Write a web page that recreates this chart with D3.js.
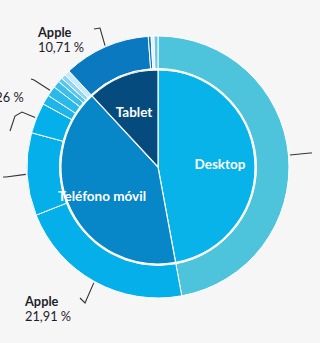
<!DOCTYPE html>
<html><head><meta charset="utf-8">
<script src="https://cdn.jsdelivr.net/npm/d3@7"></script>
<style>
html,body{margin:0;padding:0;background:#f6f6f6;}
svg{display:block;}
</style></head>
<body>
<svg id="c" width="320" height="343"></svg>
<script>
// Inner ring: device types (%)
const innerCats = ["Desktop", "Teléfono móvil", "Tablet"];
const innerVals = [47.1, 41.0, 11.9];
const innerColors = ["#07b3e8", "#0786c8", "#064b7e"];

// Outer ring: vendors within each device (%)
const outerParents = ["Desktop", "Teléfono móvil", "Teléfono móvil", "Teléfono móvil", "Teléfono móvil", "Teléfono móvil", "Teléfono móvil", "Teléfono móvil", "Teléfono móvil", "Teléfono móvil", "Tablet", "Tablet", "Tablet", "Tablet"];
const outerNames = ["Windows", "Apple", "Samsung", "Huawei", "Xiaomi", "LG", "Motorola", "Sony", "Nokia", "Otros", "Apple", "Samsung", "Amazon", "Otros"];
const outerVals = [47.1, 21.91, 10.2, 3.78, 1.2, 1.26, 0.86, 0.55, 0.55, 0.69, 10.71, 0.35, 0.35, 0.49];
const outerColors = ["#4ec3dc", "#05b0ea", "#05b0ea", "#05b0ea", "#1eb6ea", "#2ab9eb", "#3bbeec", "#55c6ee", "#8cd6f1", "#c9ebf7", "#0a79bf", "#0a79bf", "#e3f2f9", "#6cc7ea"];

// Labels shown (index into outer data)
const labelIdx = [10, 1, 5];
const labelName = ["Apple", "Apple", "LG"];
const labelPct = ["10,71 %", "21,91 %", "1,26 %"];
// leader lines only (their labels lie outside the visible area)
const leaderOnlyIdx = [3, 2, 0];

const svg = d3.select("#c");
const cx = 158, cy = 167;
const rPie = 97, rIn = 98.5, rOut = 131;
const g = svg.append("g").attr("transform", `translate(${cx},${cy})`);

const pie = d3.pie().sort(null).value(d => d.v);
const innerData = pie(innerCats.map((c, i) => ({c, v: innerVals[i], col: innerColors[i]})));
const outerData = pie(outerNames.map((n, i) => ({n, v: outerVals[i], col: outerColors[i]})));

const arcInner = d3.arc().innerRadius(0).outerRadius(rPie);
const arcOuter = d3.arc().innerRadius(rIn).outerRadius(rOut);

g.selectAll("path.o").data(outerData).join("path")
  .attr("class", "o").attr("d", arcOuter)
  .attr("fill", d => d.data.col).attr("stroke", "#ffffff").attr("stroke-width", 1);
g.selectAll("path.i").data(innerData).join("path")
  .attr("class", "i").attr("d", arcInner)
  .attr("fill", d => d.data.col).attr("stroke", "#ffffff").attr("stroke-width", 1.2);

// inner labels
const innerLabelPos = [[62, 2], [-56, 34], [-24, -50]];
g.selectAll("text.il").data(innerData).join("text")
  .attr("class", "il")
  .attr("x", (d, i) => innerLabelPos[i][0]).attr("y", (d, i) => innerLabelPos[i][1])
  .attr("text-anchor", "middle")
  .attr("font-family", "Lato, 'Open Sans', sans-serif").attr("font-weight", "bold")
  .attr("font-size", 13.5).attr("fill", "#ffffff")
  .text(d => d.data.c);

function pt(d, r) {
  const a = (d.startAngle + d.endAngle) / 2;
  return [cx + r * Math.sin(a), cy - r * Math.cos(a)];
}
const line = d3.line();

const labelLayout = [
  {bend: [[94, 29], [100, 28]], name: [38, 37], pct: [38, 52]},
  {bend: [[80, 298], [85, 303]], name: [25, 306], pct: [25, 321]},
  {bend: [[31, 79], [34, 80]], name: [-42, 87], pct: [-15, 102]}
];
labelIdx.forEach((idx, k) => {
  const d = outerData[idx];
  const pts = labelLayout[k].bend.concat([pt(d, rOut + 1.5)]);
  svg.append("path").attr("d", line(pts)).attr("fill", "none")
    .attr("stroke", "#333").attr("stroke-width", 1.1);
  const t = svg.append("text")
    .attr("font-family", "Lato, 'Open Sans', sans-serif").attr("font-size", 12.8)
    .attr("fill", "#1e1e2a");
  t.append("tspan").attr("x", labelLayout[k].name[0]).attr("y", labelLayout[k].name[1])
    .attr("font-weight", "bold").text(labelName[k]);
  t.append("tspan").attr("x", labelLayout[k].pct[0]).attr("y", labelLayout[k].pct[1])
    .text(labelPct[k]);
});

const leaderOnlyBends = [
  [[10, 131], [15, 116], [22, 112]],
  [[3, 177], [6, 177]],
  [[312, 153], [310, 153]]
];
leaderOnlyIdx.forEach((idx, k) => {
  const pts = leaderOnlyBends[k].concat([pt(outerData[idx], rOut + 1.5)]);
  svg.append("path").attr("d", line(pts)).attr("fill", "none")
    .attr("stroke", "#333").attr("stroke-width", 1.1);
});
</script>
</body></html>
